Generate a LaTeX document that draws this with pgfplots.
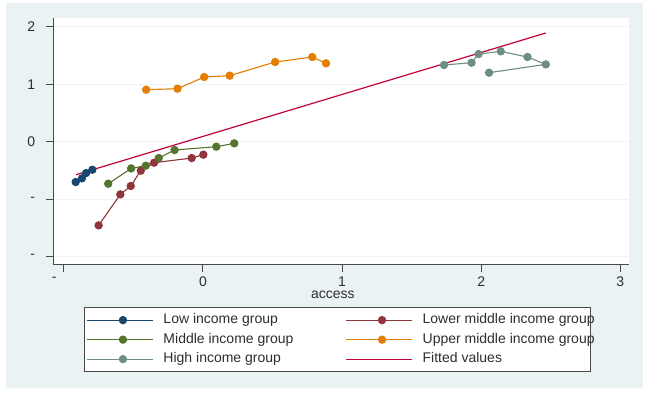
\documentclass[border=0pt]{standalone}
\usepackage{pgfplots}
\pgfplotsset{compat=1.18}
\usepackage{fontspec}
\setmainfont{Liberation Sans}
\definecolor{bgc}{HTML}{EAF2F3}
\definecolor{gridc}{HTML}{EDF3F3}
\definecolor{axisc}{HTML}{4A4A4A}
\definecolor{textc}{HTML}{2E2E2E}
\definecolor{navyc}{HTML}{1A476F}
\definecolor{maroonc}{HTML}{90353B}
\definecolor{greenc}{HTML}{55752F}
\definecolor{orangec}{HTML}{E37E00}
\definecolor{tealc}{HTML}{6E8E84}
\definecolor{fitc}{HTML}{C10534}
\begin{document}
\fontsize{14}{16}\selectfont
\begin{tikzpicture}[x=1pt,y=1pt]
\path[use as bounding box] (0,0) rectangle (650,412);
\fill[white] (0,0) rectangle (650,412);
\fill[bgc] (6,24) rectangle (643,409);
\begin{axis}[
  at={(53pt,147pt)}, anchor=south west,
  scale only axis, width=576pt, height=247pt,
  xmin=-1.078, xmax=3.063, ymin=-2.148, ymax=2.155,
  axis background/.style={fill=white},
  axis lines=left,
  axis line style={-, color=axisc, line width=1pt},
  xtick={-1,0,1,2,3}, xticklabels={{\makebox[24pt][l]{-}},0,1,2,3},
  ytick={-2,-1,0,1,2}, yticklabels={-,-,0,1,2},
  tick align=outside, major tick length=7pt,
  tick style={color=axisc, line width=1pt},
  ymajorgrids, grid style={color=gridc, line width=0.8pt},
  ticklabel style={font=\fontsize{14}{16}\selectfont, text=textc},
  xticklabel style={inner ysep=0pt, yshift=-4.66pt},
  yticklabel style={xshift=-6pt},
  xlabel={access},
  xlabel style={at={(axis description cs:0.486,-0.1345)}, anchor=base, inner sep=0pt, font=\fontsize{14}{16}\selectfont, text=textc},
  legend columns=2, legend cell align=left,
  legend image code/.code={\path (0pt,0pt) -- (66pt,0pt); \draw[mark repeat=2,mark phase=2,#1] plot coordinates {(6pt,0pt) (36pt,0pt) (66pt,0pt)};},
  legend style={at={(axis description cs:0.0538,-0.170)}, anchor=north west,
    draw=axisc, line width=0.8pt, fill=white, inner xsep=2pt, inner ysep=3pt,
    font=\fontsize{14}{16}\selectfont,
    nodes={inner xsep=4pt, inner ysep=3.25pt, text height=10pt, text depth=3pt, text=textc},
    /tikz/every odd column/.append style={column sep=6pt},
    /tikz/every even column/.append style={column sep=48pt}},
  every axis plot/.append style={line width=1.1pt, mark=*, mark size=3.6pt},
]
\addplot[navyc, mark options={fill=navyc, draw=navyc}] coordinates {
 (-0.915,-0.703) (-0.870,-0.639) (-0.840,-0.546) (-0.795,-0.488)};
\addlegendentry{Low income group}
\addplot[maroonc, mark options={fill=maroonc, draw=maroonc}] coordinates {
 (-0.750,-1.458) (-0.594,-0.918) (-0.519,-0.772) (-0.447,-0.505) (-0.351,-0.366) (-0.081,-0.285) (0.003,-0.226)};
\addlegendentry{Lower middle income group\kern-10pt}
\addplot[greenc, mark options={fill=greenc, draw=greenc}] coordinates {
 (-0.681,-0.732) (-0.516,-0.465) (-0.411,-0.418) (-0.318,-0.285) (-0.204,-0.145) (0.096,-0.087) (0.225,-0.029)};
\addlegendentry{Middle income group}
\addplot[orangec, mark options={fill=orangec, draw=orangec}] coordinates {
 (-0.408,0.906) (-0.183,0.923) (0.009,1.127) (0.192,1.150) (0.519,1.388) (0.786,1.475) (0.885,1.365)};
\addlegendentry{Upper middle income group\kern-10pt}
\addplot[tealc, mark options={fill=tealc, draw=tealc}] coordinates {
 (1.733,1.336) (1.931,1.376) (1.982,1.527) (2.141,1.574) (2.333,1.475) (2.465,1.347) (2.057,1.202)};
\addlegendentry{High income group}
\addplot[fitc, no marks, line width=1.2pt] coordinates {
 (-0.912,-0.575) (2.465,1.894)};
\addlegendentry{Fitted values}
\end{axis}
\end{tikzpicture}
\end{document}
